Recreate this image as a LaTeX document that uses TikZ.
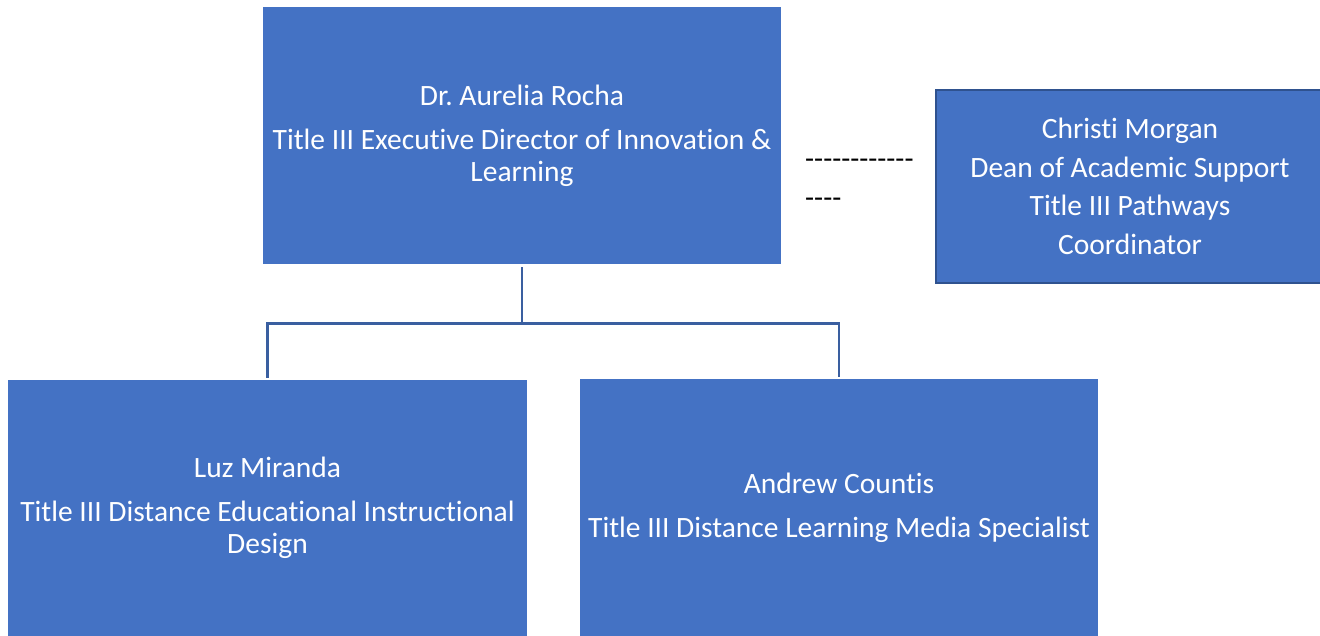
\documentclass[tikz,border=0pt]{standalone}
\usepackage{fontspec}
\setmainfont[Ligatures={TeXOff,CommonOff}]{Carlito}
\frenchspacing
\usetikzlibrary{positioning}
\definecolor{boxblue}{HTML}{4472C4}
\definecolor{edgeblue}{HTML}{2F528F}
\definecolor{linkblue}{HTML}{3A5FA0}
\tikzset{
  box/.style = {rectangle,fill=boxblue,draw=none,text=white,align=center,inner sep=0pt,
                minimum width=518pt,minimum height=257pt,font=\fontsize{29.5}{32}\selectfont},
  side/.style = {box,draw=edgeblue,line width=2pt,minimum width=388pt,minimum height=193pt,
                 font=\fontsize{29.5}{38.5}\selectfont},
  dashes/.style = {align=left,inner sep=0pt,text=black,font=\fontsize{29.5}{39}\selectfont},
  link/.style = {draw=linkblue,line width=2.6pt},
}
\begin{document}
\begin{tikzpicture}[x=1pt,y=-1pt]
    \clip (0,0) rectangle (1320,636);

    \node[box] at (522,135.5) (rocha) {Dr. Aurelia Rocha\\[12pt]Title III Executive Director of Innovation \&\\Learning};
    \node[side] at (1130,186.5) (morgan) {Christi Morgan\\Dean of Academic Support\\Title III Pathways\\Coordinator};
    \node[dashes,anchor=west] at (805,183) (dots) {------------\\----};

    \node[box,minimum width=519pt,minimum height=256pt] at (267.5,508) (miranda) {Luz Miranda\\[12pt]Title III Distance Educational Instructional\\Design};
    \node[box,minimum height=257pt] at (839,507.5) (countis) {Andrew Countis\\[12pt]Title III Distance Learning Media Specialist};

    \coordinate (fork) at (522,323.5);
    \draw[link,shorten <=3pt] (rocha) -- (fork);
    \draw[link,shorten >=2pt] (fork) -| (miranda);
    \draw[link,shorten >=2pt] (fork) -| (countis);

\end{tikzpicture}
\end{document}
